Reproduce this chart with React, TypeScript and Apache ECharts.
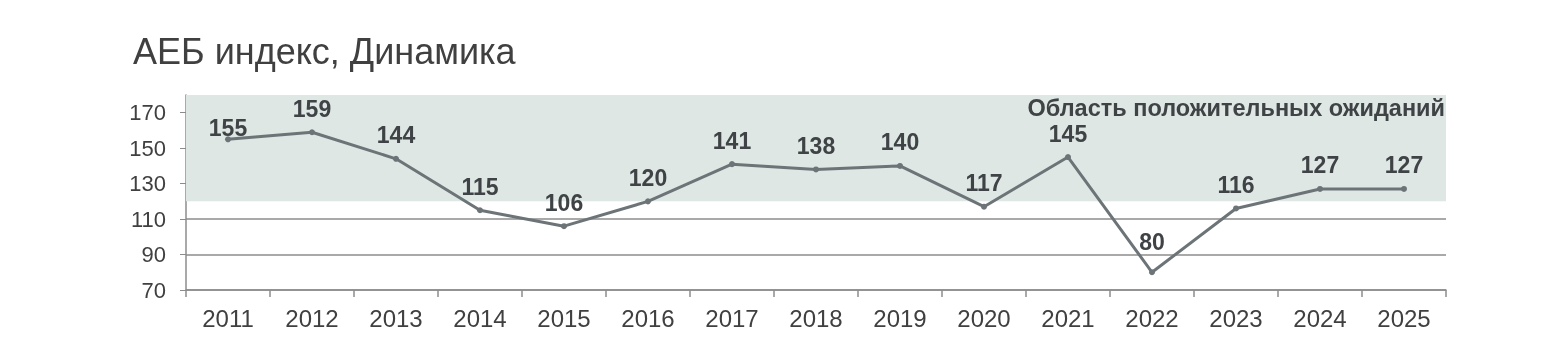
import React, { useEffect, useRef } from "react";
import * as echarts from "echarts";

const years = ["2011","2012","2013","2014","2015","2016","2017","2018","2019","2020","2021","2022","2023","2024","2025"];
const indexValues = [155,159,144,115,106,120,141,138,140,117,145,80,116,127,127];
const bandRange = [120, 180];
const bandLabel = "Область положительных ожиданий";
const titleText = "АЕБ индекс, Динамика";

export default function App() {
  const ref = useRef<HTMLDivElement>(null);
  useEffect(() => {
    if (!ref.current) return;
    const chart = echarts.init(ref.current, null, { renderer: "svg" });
    const labelDistance: Record<string, number> = { "2011": -3, "2022": 16 };
    const data = indexValues.map((v, i) => {
      const d = labelDistance[years[i]];
      return d !== undefined ? { value: v, label: { distance: d } } : v;
    });
    chart.setOption({
      animation: false,
      title: {
        text: titleText,
        left: 128,
        top: 28,
        textStyle: { fontFamily: "Arial, Liberation Sans", fontSize: 36, fontWeight: "normal", color: "#404040" },
      },
      grid: { left: 186, right: 114, top: 95, bottom: 63, containLabel: false },
      xAxis: {
        type: "category",
        data: years,
        boundaryGap: true,
        axisLine: { lineStyle: { color: "#8c8c8c", width: 1.5 } },
        axisTick: { show: true, length: 7, lineStyle: { color: "#8c8c8c", width: 1.5 } },
        axisLabel: { fontFamily: "Arial, Liberation Sans", fontSize: 24, color: "#404040", margin: 16 },
        splitLine: { show: false },
      },
      yAxis: {
        type: "value",
        min: 70,
        max: 180,
        interval: 20,
        axisLine: { show: true, lineStyle: { color: "#8c8c8c", width: 1.5 } },
        axisTick: { show: true, length: 6, lineStyle: { color: "#8c8c8c", width: 1 } },
        axisLabel: { fontFamily: "Arial, Liberation Sans", fontSize: 22, color: "#404040", margin: 20, showMaxLabel: false },
        splitLine: { show: true, showMaxLine: false, lineStyle: { color: "#8c8c8c", width: 1.5 } },
      },
      series: [
        {
          type: "line",
          data,
          symbol: "circle",
          symbolSize: 6,
          z: 3,
          lineStyle: { color: "#6d7478", width: 3 },
          itemStyle: { color: "#6d7478" },
          label: {
            show: true,
            position: "top",
            distance: 9,
            fontFamily: "Arial, Liberation Sans",
            fontSize: 23,
            fontWeight: "bold",
            color: "#3f4346",
          },
          markArea: {
            silent: true,
            itemStyle: { color: "#dee7e4" },
            label: {
              show: true,
              position: "insideTopRight",
              distance: 1,
              fontFamily: "Arial, Liberation Sans",
              fontSize: 23.5,
              fontWeight: "bold",
              color: "#3f4346",
            },
            data: [[{ yAxis: bandRange[0], name: bandLabel }, { yAxis: bandRange[1] }]],
          },
        },
      ],
    });
    return () => chart.dispose();
  }, []);
  return <div ref={ref} style={{ position: "fixed", left: 0, top: 0, width: 1560, height: 353 }} />;
}
